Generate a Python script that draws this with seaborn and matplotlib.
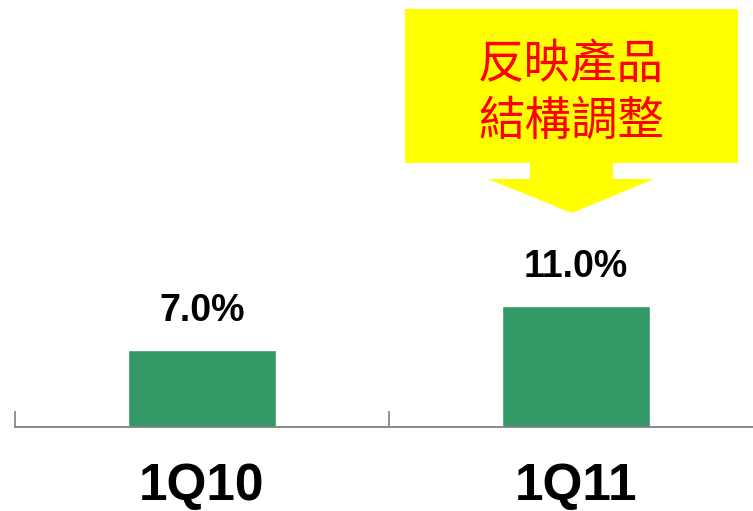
import matplotlib
matplotlib.use('Agg')
import matplotlib.pyplot as plt
import seaborn as sns
from matplotlib.patches import Polygon

quarters = ['1Q10', '1Q11']
margin = [7.0, 11.0]
value_labels = ['7.0%', '11.0%']
callout_text = '反映產品\n結構調整'

sns.set_style('white')

fig = plt.figure(figsize=(7.53, 5.11), dpi=100)
# axes runs past the right edge so the 2nd category is clipped like the slide
ax = fig.add_axes([15 / 753, 84 / 511, 748 / 753, 427 / 511])

sns.barplot(x=quarters, y=margin, color='#339966', saturation=1, width=0.395, ax=ax)
ax.set_xlim(-0.5, 1.5)
ax.set_ylim(0, 38.8)

ax.bar_label(ax.containers[0], labels=value_labels, padding=15, color='black',
             fontsize=27, fontweight='bold', family='Liberation Sans')

# category boundary ticks and centred labels
ax.set_xticks([-0.5, 0.5, 1.5], ['', '', ''])
ax.set_xticks([0, 1], quarters, minor=True)
ax.tick_params(axis='x', which='major', direction='in', length=11.5, width=1.2,
               color='#808080', bottom=True)
ax.tick_params(axis='x', which='minor', length=0, pad=25)
for lab in ax.get_xticklabels(minor=True):
    lab.set_fontsize(37)
    lab.set_fontweight('bold')
    lab.set_color('black')
    lab.set_family('Liberation Sans')

ax.set_yticks([])
sns.despine(ax=ax, left=True)
ax.spines['bottom'].set_color('#808080')
ax.spines['bottom'].set_linewidth(1.3)

# yellow down-arrow callout (figure pixel coords, y from top)
shape = [(405, 9), (738, 9), (738, 163), (613, 163), (613, 179), (654, 179),
         (572, 213), (488, 179), (530, 179), (530, 163), (405, 163)]
pts = [(x / 753, 1 - y / 511) for x, y in shape]
fig.patches.append(Polygon(pts, closed=True, transform=fig.transFigure,
                           facecolor='#ffff00', edgecolor='none'))
fig.text(571 / 753, 1 - 93 / 511, callout_text, ha='center', va='center',
         color='#ff0000', fontsize=33.5, linespacing=1.2,
         family=['Noto Sans CJK TC', 'DejaVu Sans'])

fig.savefig('out.png', dpi=100)
